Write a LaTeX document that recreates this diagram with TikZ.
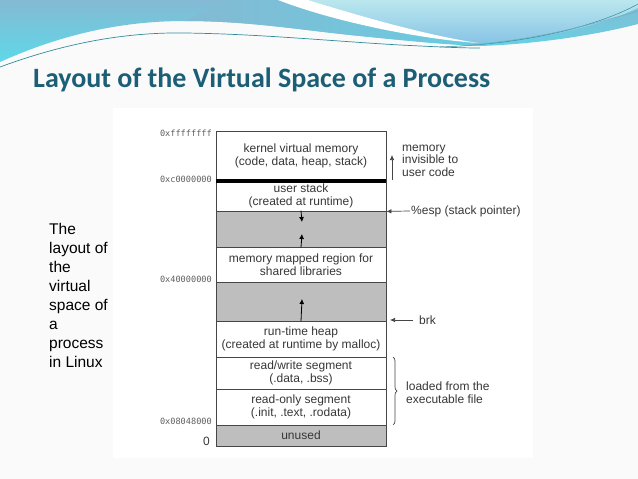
\documentclass[tikz,border=0pt]{standalone}
\usepackage{fontspec}
\setmainfont{Liberation Sans}
\newfontfamily\titlefont{Carlito}
\newfontfamily\addrfont{DejaVu Sans Mono}
\usetikzlibrary{arrows.meta,decorations.pathreplacing}
\definecolor{titleblue}{RGB}{27,94,118}
\definecolor{steel}{RGB}{132,186,211}
\definecolor{cyanlow}{RGB}{94,216,232}
\definecolor{aquatop}{RGB}{186,231,238}
\definecolor{aquabot}{RGB}{136,196,230}
\definecolor{bandc}{RGB}{104,204,224}
\definecolor{tealline}{RGB}{47,140,156}
\definecolor{bgc}{RGB}{250,250,250}
\definecolor{segline}{RGB}{70,70,70}
\definecolor{segtext}{RGB}{55,55,55}
\definecolor{gapfill}{RGB}{190,190,190}
\definecolor{addrc}{RGB}{95,95,95}
\tikzset{
  seg/.style={draw=segline, line width=0.8pt, minimum width=170pt, inner sep=0pt,
    align=center, text=segtext, font=\fontsize{12}{12.8}\selectfont},
  gap/.style={seg, fill=gapfill},
  addr/.style={anchor=east, inner sep=0pt, text=addrc, font=\addrfont\fontsize{8.6}{9}\selectfont},
  side/.style={anchor=west, align=left, text=segtext, font=\fontsize{12}{12.7}\selectfont},
  arr/.style={draw=black, line width=0.8pt, -{Latex[length=5pt,width=5pt]}},
  sidearr/.style={draw=segline, line width=0.7pt, -{Latex[length=5pt,width=4.5pt]}}
}
\begin{document}
\begin{tikzpicture}[x=1pt,y=-1pt]
\useasboundingbox (0,0) rectangle (638,479);
\fill[bgc] (0,0) rectangle (638,479);
\fill[white] (113,108) rectangle (533,458);
% header waves
\shade[top color=steel, bottom color=cyanlow]
  (0,0) -- (638,0) -- (638,24)
  .. controls (600,34) and (540,44) .. (480,46)
  .. controls (450,45) and (410,41) .. (360,36)
  .. controls (300,30) and (250,21) .. (185,21)
  .. controls (120,21) and (60,35) .. (0,62) -- cycle;
\shade[left color=steel, right color=bandc]
  (230,0) -- (290,0) .. controls (340,18) and (420,36) .. (480,45)
  .. controls (450,45) and (410,41) .. (360,36)
  .. controls (300,30) and (250,21) .. (185,21) -- cycle;
\shade[top color=aquatop, bottom color=aquabot]
  (308,0) -- (638,0) -- (638,8)
  .. controls (600,26) and (540,40) .. (478,43)
  .. controls (425,35) and (360,16) .. (308,0) -- cycle;
\fill[white]
  (278,0) -- (308,0) .. controls (360,16) and (425,35) .. (478,43)
  .. controls (420,39) and (335,22) .. (278,0) -- cycle;
\draw[tealline, line width=0.7pt]
  (0,67) .. controls (60,45) and (120,32) .. (185,33)
  .. controls (260,34) and (330,41) .. (400,45)
  .. controls (440,47) and (460,48) .. (480,48);
\draw[tealline, line width=0.5pt]
  (440,47) .. controls (530,44) and (600,25) .. (638,4);
\draw[tealline!70, line width=0.5pt]
  (460,46) .. controls (540,40) and (600,22) .. (638,11);
% title
\node[anchor=base west, inner sep=0pt, text=titleblue,
  font=\titlefont\bfseries\fontsize{28}{30}\selectfont] (title) at (33,87)
  {Layout of the Virtual Space of a Process};
% left text
\node[anchor=north west, inner sep=0pt, align=left,
  font=\fontsize{15.5}{19}\selectfont] (desc) at (49,223)
  {The\\layout of\\the\\virtual\\space of\\a\\process\\in Linux};
% memory segments
\node[seg, minimum height=50pt] (kern) at (301,156)
  {kernel virtual memory\\(code, data, heap, stack)};
\node[seg, minimum height=30pt] (ustack) at (301,196)
  {user stack\\(created at runtime)};
\node[gap, minimum height=36pt] (gap1) at (301,229) {};
\node[seg, minimum height=35pt] (mmap) at (301,264.5)
  {memory mapped region for\\shared libraries};
\node[gap, minimum height=39pt] (gap2) at (301,301.5) {};
\node[seg, minimum height=36pt] (heap) at (301,339)
  {run-time heap\\(created at runtime by malloc)};
\node[seg, minimum height=32pt] (rw) at (301,373)
  {read/write segment\\(.data, .bss)};
\node[seg, minimum height=36pt] (ro) at (301,407)
  {read-only segment\\(.init, .text, .rodata)};
\node[gap, minimum height=21pt] (unused) at (301,435.5) {unused};
\draw[black, line width=4pt] (kern.south west) -- (kern.south east);
% address labels
\node[addr] (a1) at (212,133) {0xffffffff};
\node[addr] (a2) at (212,179) {0xc0000000};
\node[addr] (a3) at (212,279) {0x40000000};
\node[addr] (a4) at (212,421) {0x08048000};
\node[anchor=east, inner sep=0pt, text=segtext, font=\fontsize{12}{12}\selectfont] (a5) at (210,441) {0};
% arrows inside the gaps
\coordinate (t1) at (302,222);
\coordinate (t2) at (302,234);
\coordinate (t3) at (302,299);
\draw[arr] (gap1.north) -- (t1);
\draw[arr] (gap1.south) -- (t2);
\draw[arr] (gap2.south) -- (t3);
% right side annotations
\coordinate (m0) at (392,180);
\coordinate (m1) at (392,155);
\draw[sidearr] (m0) -- (m1);
\node[side, inner sep=0pt] (memtxt) at (402,160.7) {memory\\invisible to\\user code};
\node[side, inner xsep=1pt, inner ysep=0pt] (esp) at (410,211) {\%esp (stack pointer)};
\draw[sidearr] (esp.west) -- (ustack.south east);
\node[side, inner xsep=6pt, inner ysep=0pt] (brk) at (413,320) {brk};
\coordinate (brkend) at (390,320);
\draw[sidearr] (brk.west) -- (brkend);
\coordinate (b0) at (393,357);
\coordinate (b1) at (393,425);
\draw[segline, line width=0.7pt, decorate, decoration={brace, amplitude=4pt}] (b0) -- (b1);
\node[side, inner sep=0pt] (loaded) at (406,392.5) {loaded from the\\executable file};
\end{tikzpicture}
\end{document}
